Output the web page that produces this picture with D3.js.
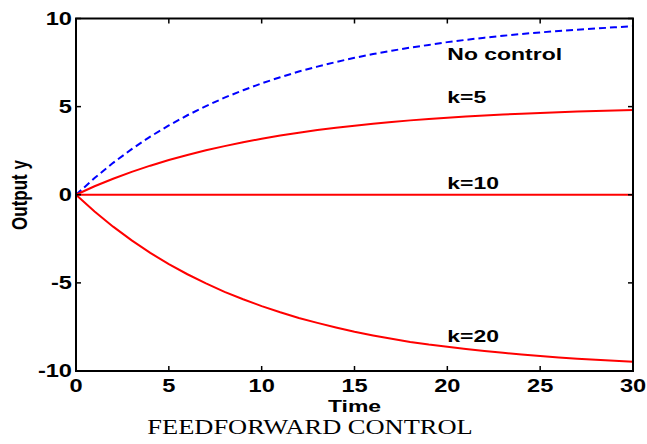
<!DOCTYPE html>
<html><head><meta charset="utf-8">
<script src="https://cdn.jsdelivr.net/npm/d3@7"></script>
<style>html,body{margin:0;padding:0;background:#fff;}svg{display:block;}</style>
</head><body>
<svg id="c" width="647" height="444"></svg>
<script>
const time = [0,1,2,3,4,5,6,7,8,9,10,11,12,13,14,15,16,17,18,19,20,21,22,23,24,25,26,27,28,29,30];
const noControl = [0,0.95,1.81,2.59,3.30,3.93,4.51,5.03,5.51,5.93,6.32,6.67,6.99,7.27,7.53,7.77,7.98,8.17,8.35,8.50,8.66,8.79,8.91,9.02,9.12,9.21,9.29,9.36,9.43,9.50,9.56];
const k5 = [0,0.48,0.91,1.30,1.65,1.97,2.26,2.52,2.76,2.98,3.18,3.36,3.52,3.67,3.80,3.92,4.03,4.13,4.22,4.30,4.37,4.44,4.50,4.55,4.60,4.64,4.68,4.72,4.75,4.78,4.81];
const k10 = [0,0,0,0,0,0,0,0,0,0,0,0,0,0,0,0,0,0,0,0,0,0,0,0,0,0,0,0,0,0,0];
const k20 = [0,-0.95,-1.81,-2.59,-3.30,-3.93,-4.51,-5.03,-5.51,-5.93,-6.32,-6.67,-6.99,-7.27,-7.53,-7.77,-7.98,-8.17,-8.35,-8.50,-8.62,-8.75,-8.87,-8.97,-9.07,-9.15,-9.23,-9.30,-9.36,-9.42,-9.47];
const xTicks = [0,5,10,15,20,25,30];
const yTicks = [-10,-5,0,5,10];
const seriesNames = ["No control","k=5","k=10","k=20"];
const labelPos = [[20,7.64],[20,5.2],[20,0.32],[20,-8.35]];
const xLabel = "Time", yLabel = "Output y", title = "FEEDFORWARD CONTROL";

const svg = d3.select("#c");
const L=76, R=633, T=18.5, B=371;
const x = d3.scaleLinear().domain([0,30]).range([L,R]);
const y = d3.scaleLinear().domain([-10,10]).range([B,T]);
const SX = 1.35;
const sans = "'Liberation Sans', Arial, Helvetica, sans-serif";

const line = d3.line().x((d,i)=>x(time[i])).y(d=>y(d));
const series = [
  {v: noControl, c:"#0000ff", dash:"7,4"},
  {v: k5, c:"#ff0000"},
  {v: k10, c:"#ff0000"},
  {v: k20, c:"#ff0000"}
];
series.forEach(s=>{
  svg.append("path").attr("d", line(s.v)).attr("fill","none")
    .attr("stroke", s.c).attr("stroke-width", 2)
    .attr("stroke-dasharray", s.dash || null);
});

svg.append("rect").attr("x",L).attr("y",T).attr("width",R-L).attr("height",B-T)
  .attr("fill","none").attr("stroke","#000").attr("stroke-width",2);

const tk = 5;
xTicks.forEach(t=>{
  svg.append("line").attr("x1",x(t)).attr("x2",x(t)).attr("y1",B).attr("y2",B-tk).attr("stroke","#000").attr("stroke-width",1.5);
  svg.append("line").attr("x1",x(t)).attr("x2",x(t)).attr("y1",T).attr("y2",T+tk).attr("stroke","#000").attr("stroke-width",1.5);
  svg.append("text").attr("transform",`translate(${x(t)},392) scale(${SX},1)`)
    .attr("text-anchor","middle").attr("font-family",sans).attr("font-weight","bold").attr("font-size",17.5)
    .text(t);
});
yTicks.forEach(t=>{
  svg.append("line").attr("x1",L).attr("x2",L+tk).attr("y1",y(t)).attr("y2",y(t)).attr("stroke","#000").attr("stroke-width",1.5);
  svg.append("line").attr("x1",R).attr("x2",R-tk).attr("y1",y(t)).attr("y2",y(t)).attr("stroke","#000").attr("stroke-width",1.5);
  svg.append("text").attr("transform",`translate(72,${y(t)+6}) scale(${SX},1)`)
    .attr("text-anchor","end").attr("font-family",sans).attr("font-weight","bold").attr("font-size",17.5)
    .text(t);
});

seriesNames.forEach((n,i)=>{
  svg.append("text").attr("transform",`translate(${x(labelPos[i][0])},${y(labelPos[i][1])}) scale(${SX},1)`)
    .attr("font-family",sans).attr("font-weight","bold").attr("font-size",17).text(n);
});

svg.append("text").attr("transform",`translate(${(L+R)/2},412) scale(${SX},1)`)
  .attr("text-anchor","middle").attr("font-family",sans).attr("font-weight","bold").attr("font-size",17).text(xLabel);
svg.append("text").attr("transform",`translate(27,195) scale(${SX},1) rotate(-90)`)
  .attr("text-anchor","middle").attr("font-family",sans).attr("font-weight","bold").attr("font-size",17).text(yLabel);
svg.append("text").attr("transform",`translate(310,434) scale(1.26,1)`)
  .attr("text-anchor","middle").attr("font-family","'Liberation Serif','Times New Roman',serif").attr("font-size",21).text(title);
</script>
</body></html>
